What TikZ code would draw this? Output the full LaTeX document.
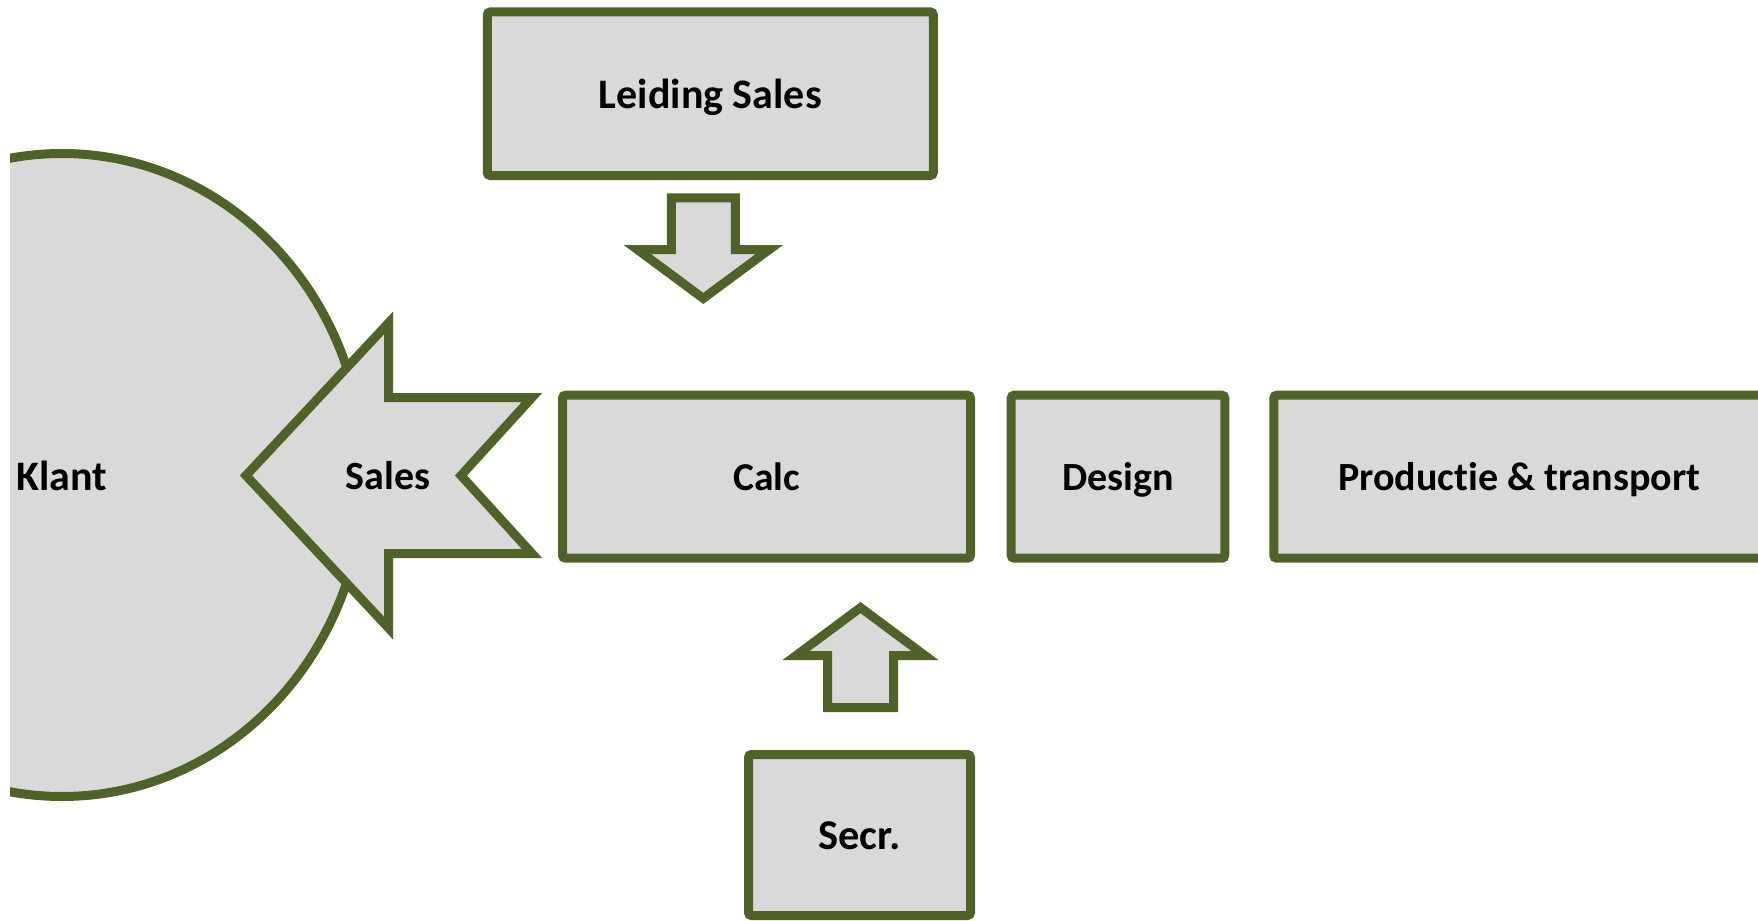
\documentclass[tikz,border=0pt]{standalone}
\usepackage{fontspec}
\setmainfont{Carlito}[Ligatures=NoCommon]
\definecolor{myolive}{HTML}{4F6228}
\definecolor{boxfill}{HTML}{D9D9D9}
\begin{document}
\begin{tikzpicture}[x=0.5pt,y=-0.5pt,
  shapestyle/.style={draw=myolive, fill=boxfill, line width=4.5pt, line join=miter},
  lbl/.style={font=\fontsize{#1}{24}\selectfont\bfseries, text depth=0pt, inner sep=0pt},
  lbl/.default=20,
  box/.style={shapestyle, rectangle, rounded corners=1.5pt}]
\useasboundingbox (0,0) rectangle (1758,921);
% Klant (clipped ellipse)
\begin{scope}
\clip (10,0) rectangle (1758,921);
\draw[shapestyle] (62,475) ellipse [x radius=302, y radius=321.5];
\end{scope}
\node[lbl=21, text height=13.5pt] (klant) at (62,476.5) {Klant};
% Sales notched arrow
\draw[shapestyle] (246,475.5) -- (388.5,323) -- (388.5,397.5) -- (532,397.5) -- (461,475.5)
  -- (532,553.5) -- (388.5,553.5) -- (388.5,628) -- cycle;
\node[lbl=20, text height=13pt] (sales) at (388,476.5) {Sales};
% boxes
\node[box, lbl=21, text height=14.6pt, minimum width=223pt, minimum height=81.8pt] (leiding) at (710.3,93.7) {Leiding Sales};
\node[box, lbl=19.75, text height=13.3pt, minimum width=204pt, minimum height=81.5pt] (calc) at (766.5,476.7) {Calc};
\node[box, lbl=20, text height=13.3pt, minimum width=106.8pt, minimum height=81.5pt] (design) at (1118,476.7) {Design};
\node[box, lbl=20, text height=13.3pt, minimum width=245.4pt, minimum height=81.5pt] (prod) at (1519.2,476.7) {Productie \& transport};
\node[box, lbl=21.2, text height=14.3pt, minimum width=111pt, minimum height=80.5pt] (secr) at (859.5,835) {Secr.};
% down arrow (Leiding Sales -> Calc)
\draw[shapestyle] (671.3,197.8) -- (735.3,197.8) -- (735.3,249.5) -- (769.3,249.5) -- (703.3,298.4)
  -- (637.3,249.5) -- (671.3,249.5) -- cycle;
% up arrow (Secr. -> Calc)
\draw[shapestyle] (827.5,707.5) -- (893.5,707.5) -- (893.5,655.5) -- (924.9,655.5) -- (860.5,607.6)
  -- (796.1,655.5) -- (827.5,655.5) -- cycle;
\end{tikzpicture}
\end{document}
